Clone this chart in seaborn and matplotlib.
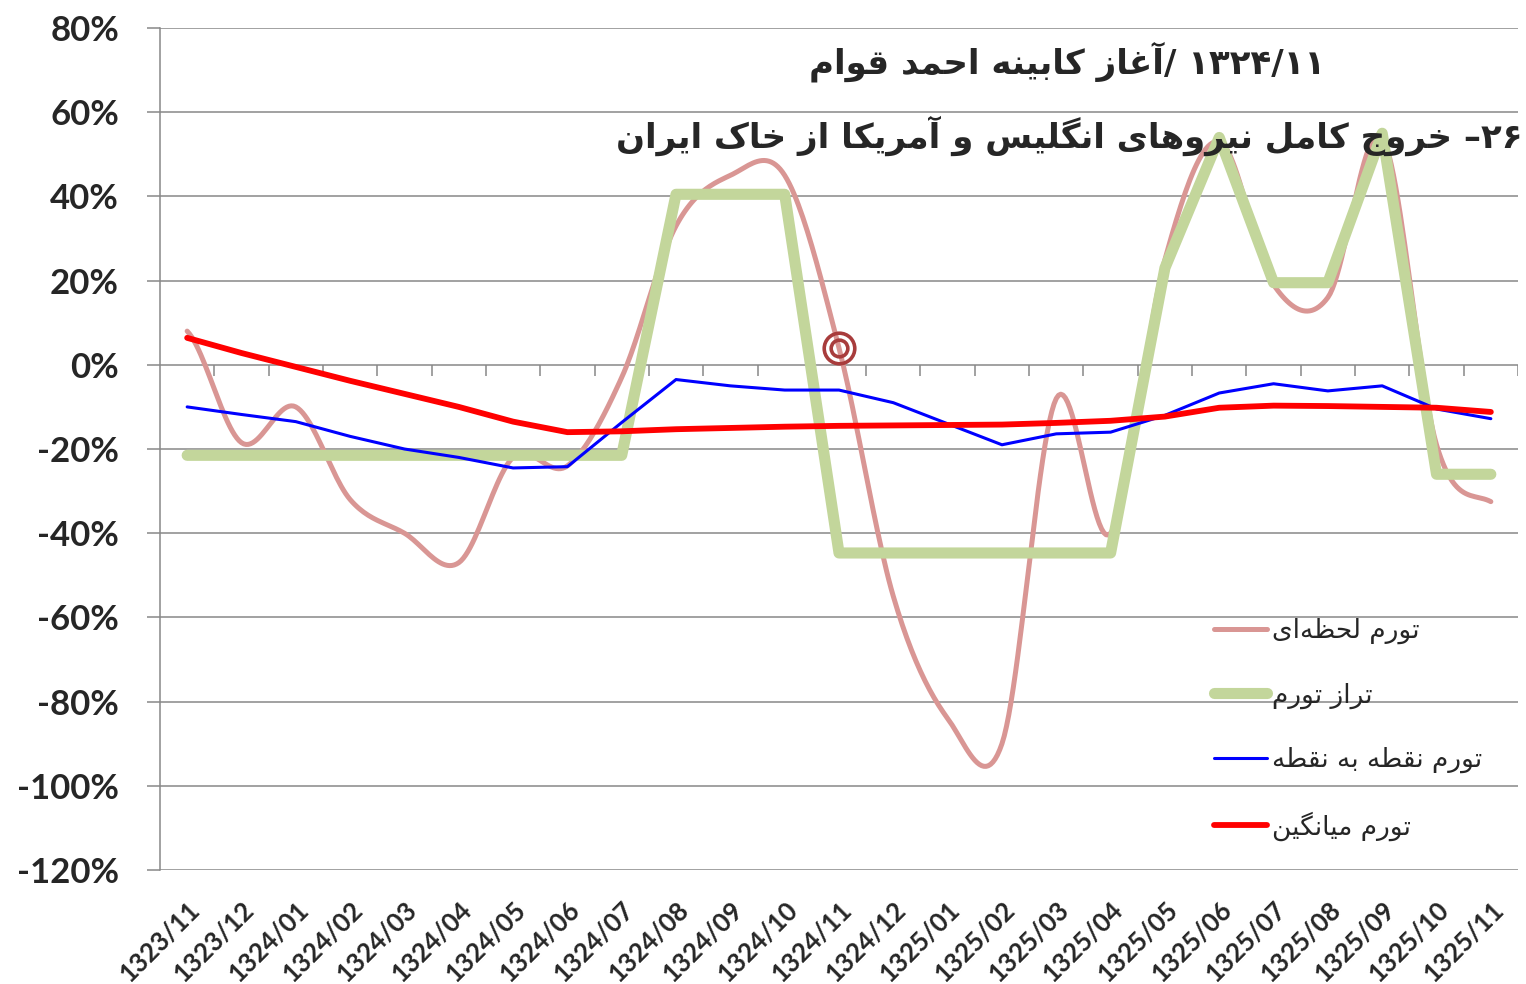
import re
import numpy as np
import pandas as pd
import seaborn as sns
import matplotlib.pyplot as plt
from matplotlib.lines import Line2D

# Data (percent).
months = ['1323/11', '1323/12', '1324/01', '1324/02', '1324/03', '1324/04', '1324/05',
          '1324/06', '1324/07', '1324/08', '1324/09', '1324/10', '1324/11', '1324/12',
          '1325/01', '1325/02', '1325/03', '1325/04', '1325/05', '1325/06', '1325/07',
          '1325/08', '1325/09', '1325/10', '1325/11']
momentary = [8, -18.5, -10, -32, -40, -47, -22, -24, -3, 33, 45, 45, 4, -55, -84,
             -90, -8, -40, 25, 53, 19, 16, 54, -19, -32.5]
level = [-21.5, -21.5, -21.5, -21.5, -21.5, -21.5, -21.5, -21.5, -21.5, 40.5, 40.5, 40.5,
         -44.7, -44.7, -44.7, -44.7, -44.7, -44.7, 23, 54, 19.5, 19.5, 55, -26, -26]
point_to_point = [-10, -11.8, -13.5, -17, -20, -22, -24.5, -24.2, -13.7, -3.5, -5, -6, -6,
                  -9, -14, -19, -16.4, -16, -12, -6.7, -4.5, -6.2, -5, -10.5, -12.8]
average = [6.4, 2.8, -0.5, -3.8, -6.9, -10, -13.5, -16, -15.8, -15.3, -15, -14.7, -14.5,
           -14.4, -14.3, -14.2, -13.8, -13.3, -12.3, -10.2, -9.7, -9.8, -10, -10.2, -11.2]
marked_month = '1324/11'

legend_labels = ['تورم لحظه\u200cای', 'تراز تورم', 'تورم نقطه به نقطه', 'تورم میانگین']
title_1 = '۱۳۲۴/۱۱ /آغاز کابینه احمد قوام'
title_2 = '۲۶– خروج کامل نیروهای انگلیس و آمریکا از خاک ایران'
yticks = list(range(-120, 81, 20))

# Minimal Persian shaping: presentation forms (isolated, final, initial, medial).
FORMS = {
    '\u0627': (0xFE8D, 0xFE8E, None, None), '\u0622': (0xFE81, 0xFE82, None, None),
    '\u0628': (0xFE8F, 0xFE90, 0xFE91, 0xFE92), '\u062A': (0xFE95, 0xFE96, 0xFE97, 0xFE98),
    '\u062C': (0xFE9D, 0xFE9E, 0xFE9F, 0xFEA0), '\u062D': (0xFEA1, 0xFEA2, 0xFEA3, 0xFEA4),
    '\u062E': (0xFEA5, 0xFEA6, 0xFEA7, 0xFEA8), '\u062F': (0xFEA9, 0xFEAA, None, None),
    '\u0631': (0xFEAD, 0xFEAE, None, None), '\u0632': (0xFEAF, 0xFEB0, None, None),
    '\u0633': (0xFEB1, 0xFEB2, 0xFEB3, 0xFEB4), '\u0637': (0xFEC1, 0xFEC2, 0xFEC3, 0xFEC4),
    '\u0638': (0xFEC5, 0xFEC6, 0xFEC7, 0xFEC8), '\u063A': (0xFECD, 0xFECE, 0xFECF, 0xFED0),
    '\u0642': (0xFED5, 0xFED6, 0xFED7, 0xFED8), '\u0644': (0xFEDD, 0xFEDE, 0xFEDF, 0xFEE0),
    '\u0645': (0xFEE1, 0xFEE2, 0xFEE3, 0xFEE4), '\u0646': (0xFEE5, 0xFEE6, 0xFEE7, 0xFEE8),
    '\u0647': (0xFEE9, 0xFEEA, 0xFEEB, 0xFEEC), '\u0648': (0xFEED, 0xFEEE, None, None),
    '\u06A9': (0xFB8E, 0xFB8F, 0xFB90, 0xFB91), '\u06AF': (0xFB92, 0xFB93, 0xFB94, 0xFB95),
    '\u06CC': (0xFBFC, 0xFBFD, 0xFBFE, 0xFBFF),
}


def shape_run(s):
    out = []
    for i, c in enumerate(s):
        if c not in FORMS:
            out.append(c)
            continue
        iso, fin, ini, med = FORMS[c]
        prev = s[i - 1] if i > 0 else None
        nxt = s[i + 1] if i + 1 < len(s) else None
        jp = prev in FORMS and FORMS[prev][2] is not None
        jn = ini is not None and nxt in FORMS
        out.append(chr(med if jp and jn else fin if jp else ini if jn else iso))
    return ''.join(out).replace('\u200c', '')


def rtl(text):
    words = []
    for tok in reversed(text.split(' ')):
        runs = re.findall(r'[0-9۰-۹]+(?:/[0-9۰-۹]+)*|[^0-9۰-۹]+', tok)
        parts = [r if re.match(r'[0-9۰-۹]', r) else shape_run(r)[::-1] for r in reversed(runs)]
        words.append(''.join(parts))
    return ' '.join(words)


def catmull_rom(y, steps=24):
    p = np.r_[y[0], y, y[-1]]
    xs, ys = [], []
    for i in range(len(y) - 1):
        p0, p1, p2, p3 = p[i], p[i + 1], p[i + 2], p[i + 3]
        t = np.linspace(0, 1, steps, endpoint=False)
        ys.append(0.5 * (2 * p1 + (p2 - p0) * t + (2 * p0 - 5 * p1 + 4 * p2 - p3) * t ** 2
                         + (3 * p1 - p0 - 3 * p2 + p3) * t ** 3))
        xs.append(i + t)
    return np.r_[np.concatenate(xs), len(y) - 1], np.r_[np.concatenate(ys), y[-1]]


sns.set_theme(style='white')
plt.rcParams['font.family'] = ['Lato', 'DejaVu Sans']
grid_c = '#888888'

x = np.arange(len(months))
df = pd.DataFrame({'x': x, 'level': level, 'ptp': point_to_point, 'avg': average})
sx, sy = catmull_rom(np.array(momentary, dtype=float))
smooth = pd.DataFrame({'x': sx, 'y': sy})

fig = plt.figure(figsize=(15.26, 9.84), dpi=100)
ax = fig.add_axes([160 / 1526, 1 - 870 / 984, 1358 / 1526, 842 / 984])

for v in yticks:
    ax.axhline(v, color=grid_c, lw=1.1, zorder=0)

pink, green, blue, red = '#D99694', '#C3D69B', '#0000FF', '#FF0000'
sns.lineplot(data=smooth, x='x', y='y', sort=False, estimator=None, color=pink, lw=3.6, ax=ax, zorder=2)
sns.lineplot(data=df, x='x', y='level', estimator=None, color=green, lw=8, ax=ax, zorder=3)
sns.lineplot(data=df, x='x', y='ptp', estimator=None, color=blue, lw=2.2, ax=ax, zorder=4)
sns.lineplot(data=df, x='x', y='avg', estimator=None, color=red, lw=4.2, ax=ax, zorder=5)
i = months.index(marked_month)
ax.plot(i, momentary[i], 'o', ms=22, mfc='none', mec='#A83C3C', mew=2.6, zorder=6)
ax.plot(i, momentary[i], 'o', ms=12, mfc='none', mec='#A83C3C', mew=2.6, zorder=6)

# category tick marks hang from the 0% line
ax.vlines(np.arange(0.5, len(months), 1), -2.6, 0, color=grid_c, lw=1.1, zorder=1)

ax.set_xlim(-0.5, len(months) - 0.5)
ax.set_ylim(-120, 80)
ax.set_yticks(yticks)
ax.set_yticklabels([f'{v}%' for v in yticks], fontsize=25, fontweight='bold')
ax.set_xticks(x)
ax.set_xticklabels(months, rotation=45, ha='right', va='top', rotation_mode='anchor',
                   fontsize=18.5, fontweight='bold')
ax.tick_params(axis='x', length=0, pad=20)
ax.tick_params(axis='y', length=9.5, width=1.1, color=grid_c, pad=20, left=True)
ax.set_xlabel('')
ax.set_ylabel('')
for side in ('top', 'right', 'bottom'):
    ax.spines[side].set_visible(False)
ax.spines['left'].set_color(grid_c)
ax.spines['left'].set_linewidth(1.1)

handles = [Line2D([], [], color=pink, lw=3.6), Line2D([], [], color=green, lw=8),
           Line2D([], [], color=blue, lw=2.2), Line2D([], [], color=red, lw=4.2)]
ax.legend(handles, [rtl(t) for t in legend_labels], loc='upper left',
          bbox_to_anchor=(1190 / 1526, 1 - 594 / 984), bbox_transform=fig.transFigure,
          frameon=False, prop={'family': 'DejaVu Sans', 'size': 19},
          handlelength=2.0, handletextpad=0.2, labelspacing=1.45)

fig.text(1325 / 1526, 1 - 62 / 984, rtl(title_1), ha='right', va='center',
         family='DejaVu Sans', fontweight='bold', fontsize=24.5)
fig.text(1523 / 1526, 1 - 136 / 984, rtl(title_2), ha='right', va='center',
         family='DejaVu Sans', fontweight='bold', fontsize=24.5)

fig.savefig('out.png', dpi=100, facecolor='white')
